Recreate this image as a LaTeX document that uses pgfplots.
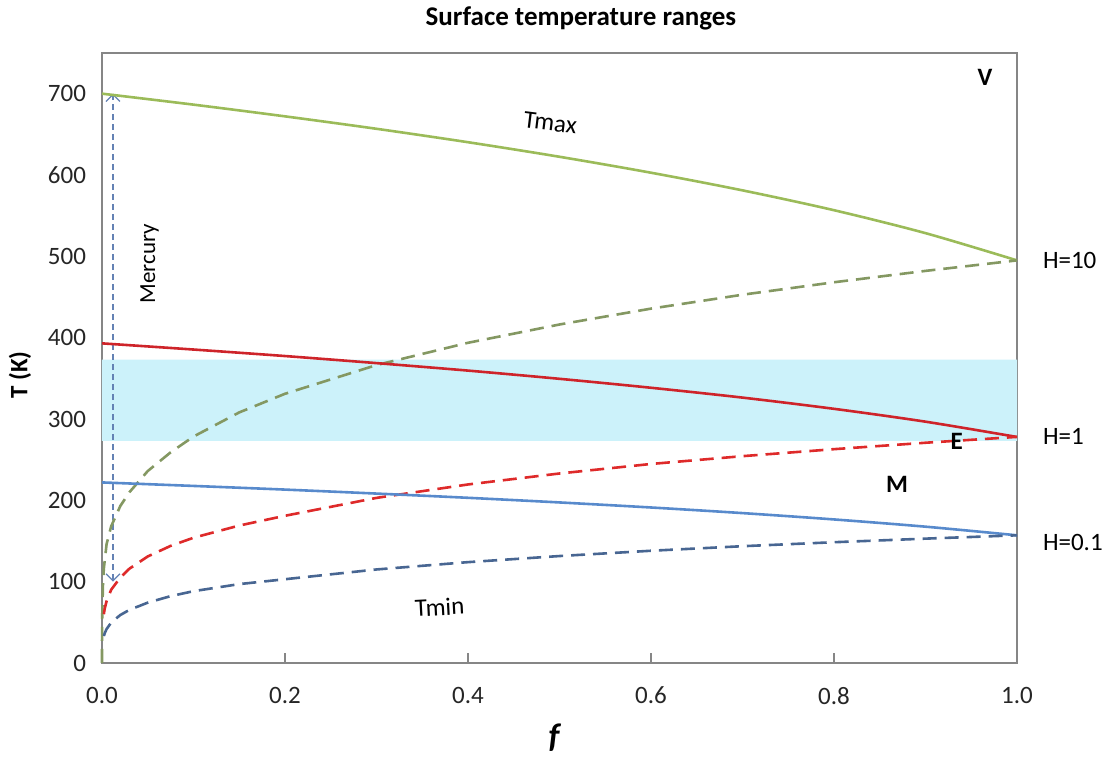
\documentclass[border=0pt]{standalone}
\usepackage{fontspec}
\setmainfont{Carlito}
\usepackage{pgfplots}
\pgfplotsset{compat=1.18}
\usetikzlibrary{arrows.meta}

\definecolor{greenmax}{RGB}{155,187,89}
\definecolor{greenmin}{RGB}{132,152,98}
\definecolor{redmax}{RGB}{206,36,42}
\definecolor{redmin}{RGB}{222,42,42}
\definecolor{bluemax}{RGB}{88,138,204}
\definecolor{bluemin}{RGB}{72,102,146}
\definecolor{waterband}{RGB}{204,242,250}
\definecolor{framegray}{RGB}{134,134,134}
\definecolor{arrowblue}{RGB}{100,130,180}

\begin{document}
\begin{tikzpicture}[font=\fontsize{12.5}{15}\selectfont]
\path[use as bounding box] (-51pt,-47.5pt) rectangle (502.5pt,331.5pt);
\begin{axis}[
  at={(0,0)}, anchor=south west,
  scale only axis, width=457.5pt, height=305pt,
  xmin=0, xmax=1, ymin=0, ymax=750,
  clip=false,
  axis line style={framegray, line width=0.6pt},
  xtick={0,0.2,0.4,0.6,0.8,1},
  ytick={0,100,200,300,400,500,600,700},
  tick align=inside, xtick pos=bottom, ytick pos=left,
  major tick length=5pt,
  xtick style={framegray, line width=0.6pt},
  ytick style={draw=none},
  tick label style={font=\fontsize{12.5}{15}\selectfont, text=black!85},
  /pgf/number format/assume math mode=true,
  x tick label style={/pgf/number format/fixed, /pgf/number format/fixed zerofill, /pgf/number format/precision=1, yshift=-8.5pt},
  y tick label style={xshift=-4.5pt},
  ylabel={\textbf{T (K)}},
  ylabel style={at={(rel axis cs:-0.0896,0.472)}, anchor=center, font=\fontsize{12.5}{15}\selectfont},
  xlabel={\textbf{\textit{f}}},
  xlabel style={at={(rel axis cs:0.495,-0.123)}, anchor=center, font=\fontsize{17}{20}\selectfont},
]

% liquid water range, 273--373 K
\addplot[draw=none, fill=waterband] coordinates {(0,273) (1,273) (1,373) (0,373) (0,273)};

% Mercury: day/night span
\addplot[arrowblue, dash pattern=on 3pt off 2pt, line width=0.6pt,
  {Straight Barb[length=3.5pt,width=7pt,line width=0.6pt]}-{Straight Barb[length=3.5pt,width=7pt,line width=0.6pt]}]
  coordinates {(0.012,100) (0.012,700)};

% H = 10
\addplot[greenmax, line width=1.3pt, smooth] coordinates {
 (0,700) (0.1,686.5) (0.2,672.1) (0.3,656.8) (0.4,640.3) (0.5,622.4)
 (0.6,602.8) (0.7,581.1) (0.8,556.7) (0.9,528.5) (1,495.0)};
\addplot[greenmin, line width=1.3pt, dash pattern=on 7pt off 4pt] coordinates {
 (0,0) (0.0001,49.5) (0.001,95.0) (0.002,116.0) (0.005,146.0) (0.01,168.0)
 (0.02,193.0) (0.03,210.0) (0.05,236.0) (0.075,259.0) (0.1,278.4) (0.15,308.1)
 (0.2,331.0) (0.3,366.3) (0.4,393.7) (0.5,416.2) (0.6,435.7) (0.7,452.8)
 (0.8,468.1) (0.9,482.1) (1,495.0)};

% H = 1
\addplot[redmax, line width=1.3pt, smooth] coordinates {
 (0,393) (0.1,385.4) (0.2,377.4) (0.3,368.7) (0.4,359.5) (0.5,349.4)
 (0.6,338.4) (0.7,326.3) (0.8,312.5) (0.9,296.7) (1,277.9)};
\addplot[redmin, line width=1.3pt, dash pattern=on 7pt off 4pt] coordinates {
 (0.002,60.0) (0.003,67.0) (0.005,76.0) (0.01,90.0)
 (0.02,105.0) (0.03,116.0) (0.05,131.0) (0.075,144.0) (0.1,154.0) (0.15,169.0)
 (0.2,181.0) (0.3,203.0) (0.4,219.5) (0.5,233.0) (0.6,244.7) (0.7,254.3)
 (0.8,262.9) (0.9,270.8) (1,278.0)};

% H = 0.1
\addplot[bluemax, line width=1.3pt, smooth] coordinates {
 (0,222) (0.1,217.7) (0.2,213.2) (0.3,208.3) (0.4,203.1) (0.5,197.4)
 (0.6,191.2) (0.7,184.3) (0.8,176.5) (0.9,167.6) (1,157.0)};
\addplot[bluemin, line width=1.3pt, dash pattern=on 7pt off 4pt] coordinates {
 (0.002,33.2) (0.003,36.7) (0.005,41.7) (0.01,49.6)
 (0.02,59.0) (0.03,65.3) (0.05,74.2) (0.075,82.2) (0.1,88.3) (0.15,97.0)
 (0.2,103.0) (0.3,115.0) (0.4,124.0) (0.5,131.5) (0.6,138.0) (0.7,143.6)
 (0.8,148.5) (0.9,152.9) (1,157.0)};

% annotations
\node[font=\fontsize{13.5}{16}\selectfont\bfseries] at (rel axis cs:0.5235,1.057) {Surface temperature ranges};
\node[rotate=-7] at (axis cs:0.49,664) {Tmax};
\node[rotate=3] at (axis cs:0.369,69) {Tmin};
\node[rotate=90, font=\fontsize{11.5}{14}\selectfont] at (axis cs:0.052,491) {Mercury};
\node[font=\fontsize{12.5}{15}\selectfont\bfseries] at (axis cs:0.965,720) {V};
\node[font=\fontsize{12.5}{15}\selectfont\bfseries] at (axis cs:0.934,272) {E};
\node[font=\fontsize{12.5}{15}\selectfont\bfseries] at (axis cs:0.869,220) {M};
\node[anchor=west, inner sep=0pt] at (axis cs:1.028,495) {H=10};
\node[anchor=west, inner sep=0pt] at (axis cs:1.028,279) {H=1};
\node[anchor=west, inner sep=0pt] at (axis cs:1.028,148) {H=0.1};
\end{axis}
\end{tikzpicture}
\end{document}
